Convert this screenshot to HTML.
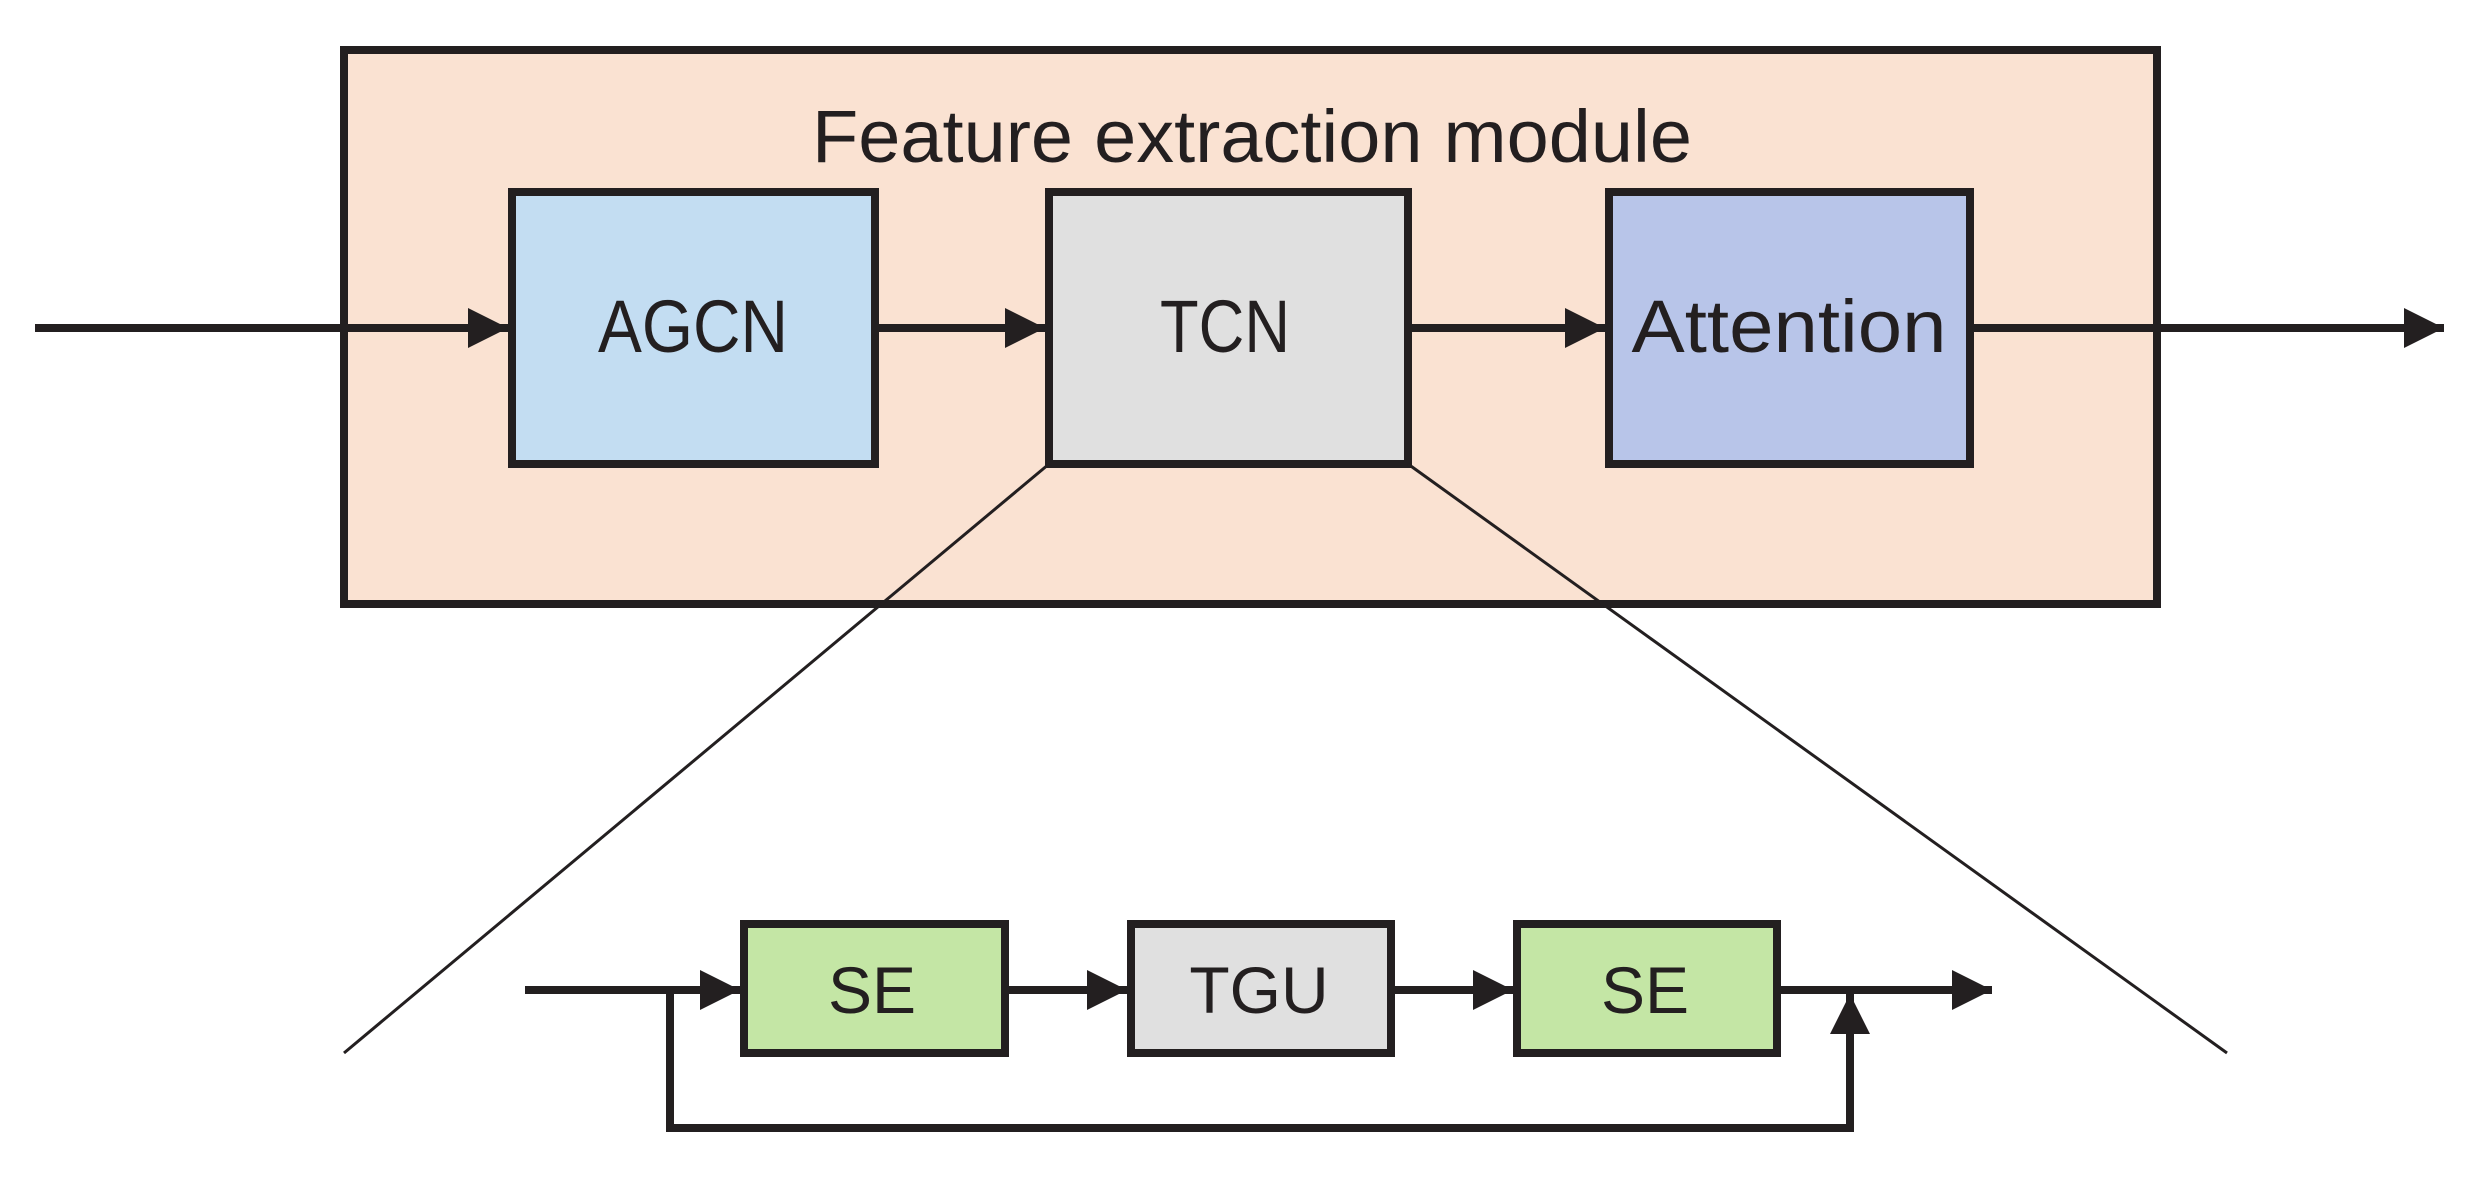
<!DOCTYPE html>
<html><head><style>html,body{margin:0;padding:0;background:#fff}</style></head>
<body>
<svg width="2472" height="1179" viewBox="0 0 2472 1179" xmlns="http://www.w3.org/2000/svg" font-family="'Liberation Sans', sans-serif">
<defs>
<marker id="a" viewBox="0 0 10 10" refX="10" refY="5" markerWidth="5" markerHeight="5" markerUnits="strokeWidth" orient="auto"><path d="M0,0 L10,5 L0,10 z" fill="#231f20"/></marker>
</defs>
<rect x="344" y="50" width="1813" height="554" fill="#fae2d2" stroke="#231f20" stroke-width="8"/>
<text x="1252" y="162" font-size="74" text-anchor="middle" fill="#231f20" textLength="880" lengthAdjust="spacingAndGlyphs">Feature extraction module</text>
<g stroke="#231f20" stroke-width="8">
<rect x="512" y="192" width="363" height="272" fill="#c3ddf2"/>
<rect x="1049" y="192" width="359" height="272" fill="#e0e0e0"/>
<rect x="1609" y="192" width="361" height="272" fill="#b8c5e9"/>
</g>
<g font-size="74" text-anchor="middle" fill="#231f20">
<text x="693" y="352" textLength="190" lengthAdjust="spacingAndGlyphs">AGCN</text>
<text x="1225" y="352" textLength="130" lengthAdjust="spacingAndGlyphs">TCN</text>
<text x="1789" y="352" textLength="315" lengthAdjust="spacingAndGlyphs">Attention</text>
</g>
<g stroke="#231f20" stroke-width="8" fill="none">
<line x1="35" y1="328" x2="508" y2="328" marker-end="url(#a)"/>
<line x1="878" y1="328" x2="1045" y2="328" marker-end="url(#a)"/>
<line x1="1411" y1="328" x2="1605" y2="328" marker-end="url(#a)"/>
<line x1="1973" y1="328" x2="2444" y2="328" marker-end="url(#a)"/>
</g>
<g stroke="#231f20" stroke-width="3">
<line x1="1049" y1="464" x2="344" y2="1053"/>
<line x1="1408" y1="464" x2="2227" y2="1053"/>
</g>
<g stroke="#231f20" stroke-width="8">
<rect x="744" y="924" width="261" height="129" fill="#c4e6a5"/>
<rect x="1131" y="924" width="260" height="129" fill="#e0e0e0"/>
<rect x="1517" y="924" width="260" height="129" fill="#c4e6a5"/>
</g>
<g font-size="66" text-anchor="middle" fill="#231f20">
<text x="872" y="1013">SE</text>
<text x="1259" y="1013">TGU</text>
<text x="1645" y="1013">SE</text>
</g>
<g stroke="#231f20" stroke-width="8" fill="none">
<line x1="525" y1="990" x2="740" y2="990" marker-end="url(#a)"/>
<line x1="1008" y1="990" x2="1127" y2="990" marker-end="url(#a)"/>
<line x1="1394" y1="990" x2="1513" y2="990" marker-end="url(#a)"/>
<line x1="1780" y1="990" x2="1992" y2="990" marker-end="url(#a)"/>
<polyline points="670,990 670,1128 1850,1128 1850,994" marker-end="url(#a)"/>
</g>
</svg>
</body></html>
